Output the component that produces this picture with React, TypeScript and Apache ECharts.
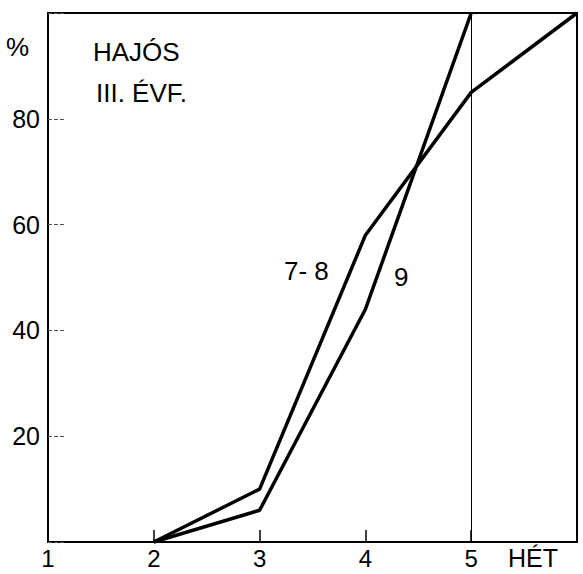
import React, { useEffect, useRef } from "react";
import * as echarts from "echarts";

const weeks78 = [2, 3, 4, 5, 6];
const values78 = [0, 10, 58, 85, 100];
const weeks9 = [2, 3, 4, 5];
const values9 = [0, 6, 44, 100];
const yTickLabels = ["20", "40", "60", "80"];
const xTickLabels = ["1", "2", "3", "4", "5"];

const FONT = "'Liberation Sans', 'DejaVu Sans', sans-serif";

export default function App() {
  const ref = useRef<HTMLDivElement>(null);
  useEffect(() => {
    document.body.style.margin = "0";
    const chart = echarts.init(ref.current!, null, { renderer: "svg" });
    chart.setOption({
      animation: false,
      backgroundColor: "#ffffff",
      grid: {
        left: 48,
        right: 6,
        top: 13,
        bottom: 32,
        show: true,
        borderColor: "#000",
        borderWidth: 2,
        backgroundColor: "transparent",
      },
      xAxis: {
        type: "value",
        min: 1,
        max: 6,
        interval: 1,
        axisLine: { show: true, lineStyle: { color: "#000", width: 2 } },
        axisTick: { show: true, inside: true, length: 12, lineStyle: { color: "#000", width: 1.5 } },
        splitLine: { show: false },
        axisLabel: {
          color: "#000",
          fontFamily: FONT,
          fontSize: 24,
          margin: 4,
          formatter: (v: number) => (xTickLabels.includes(String(v)) ? String(v) : ""),
        },
      },
      yAxis: {
        type: "value",
        min: 0,
        max: 100,
        interval: 20,
        axisLine: { show: true, lineStyle: { color: "#000", width: 2 } },
        axisTick: { show: true, inside: true, length: 16, lineStyle: { color: "#555", width: 1, type: "dashed" } },
        splitLine: { show: false },
        axisLabel: {
          color: "#000",
          fontFamily: FONT,
          fontSize: 25,
          margin: 8,
          formatter: (v: number) => (yTickLabels.includes(String(v)) ? String(v) : ""),
        },
      },
      graphic: [
        { type: "text", left: 6, top: 34, style: { text: "%", font: `26px ${FONT}`, fill: "#000" } },
        { type: "text", left: 93, top: 39, style: { text: "HAJÓS", font: `26px ${FONT}`, fill: "#000" } },
        { type: "text", left: 96, top: 80, style: { text: "III. ÉVF.", font: `26px ${FONT}`, fill: "#000" } },
        { type: "text", left: 284, top: 258, style: { text: "7- 8", font: `26px ${FONT}`, fill: "#000" } },
        { type: "text", left: 394, top: 264, style: { text: "9", font: `26px ${FONT}`, fill: "#000" } },
        { type: "text", left: 508, top: 545, style: { text: "HÉT", font: `25px ${FONT}`, fill: "#000" } },
      ],
      series: [
        {
          name: "7-8",
          type: "line",
          data: weeks78.map((w, i) => [w, values78[i]]),
          symbol: "none",
          clip: false,
          lineStyle: { color: "#000", width: 3.5 },
          markLine: {
            silent: true,
            symbol: "none",
            label: { show: false },
            lineStyle: { color: "#000", width: 1, type: "solid" },
            data: [{ xAxis: 5 }],
          },
        },
        {
          name: "9",
          type: "line",
          data: weeks9.map((w, i) => [w, values9[i]]),
          symbol: "none",
          clip: false,
          lineStyle: { color: "#000", width: 3.5 },
        },
      ],
    });
    return () => chart.dispose();
  }, []);
  return <div ref={ref} style={{ width: 583, height: 574 }} />;
}
